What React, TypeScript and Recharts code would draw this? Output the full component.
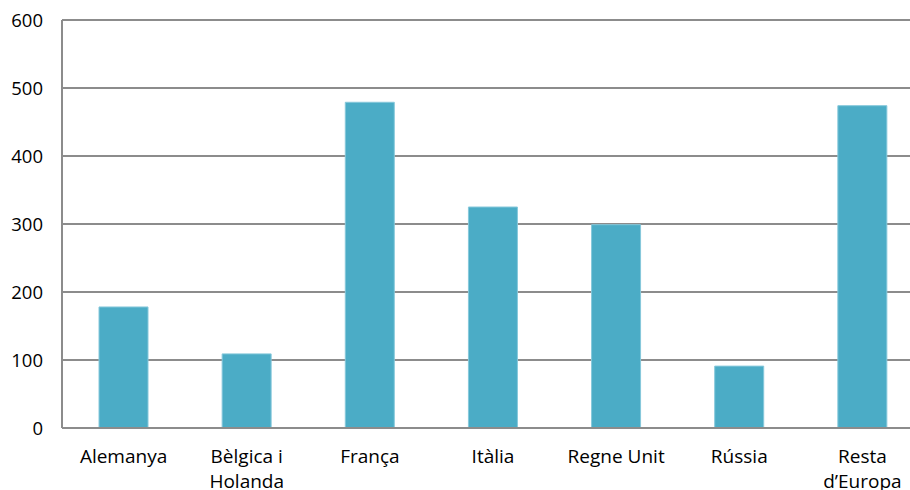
import React from 'react';
import { BarChart, Bar, XAxis, YAxis, CartesianGrid } from 'recharts';

// categories and values
const categories = ['Alemanya', 'Bèlgica i Holanda', 'França', 'Itàlia', 'Regne Unit', 'Rússia', "Resta d'Europa"];
const values = [178, 109, 479, 325, 299, 91, 474];
const tickLines = [['Alemanya'], ['Bèlgica i', 'Holanda'], ['França'], ['Itàlia'], ['Regne Unit'], ['Rússia'], ['Resta', 'd\u2019Europa']];
const yTicks = [0, 100, 200, 300, 400, 500, 600];

const data = categories.map((name, i) => ({ name, value: values[i] }));

const FONT = '"Open Sans", sans-serif';

function CategoryTick(props: any) {
  const { x, payload } = props;
  const lines = tickLines[payload.index] || [payload.value];
  return (
    <g>
      {lines.map((line, i) => (
        <text
          key={i}
          x={x}
          y={456 + i * 25}
          textAnchor="middle"
          dominantBaseline="central"
          fontFamily={FONT}
          fontSize={19}
          fill="#000"
        >
          {line}
        </text>
      ))}
    </g>
  );
}

export default function App() {
  return (
    <div style={{ position: 'absolute', left: 0, top: 0, width: 910, height: 490, background: '#fff', overflow: 'hidden' }}>
      <BarChart width={924} height={490} data={data} margin={{ top: 20, right: 0, bottom: 0, left: 0 }}>
        <CartesianGrid vertical={false} stroke="#8c8c8c" strokeWidth={2} />
        <XAxis
          dataKey="name"
          height={62}
          axisLine={{ stroke: '#8c8c8c', strokeWidth: 2 }}
          tickLine={false}
          tick={<CategoryTick />}
          interval={0}
        />
        <YAxis
          width={62}
          domain={[0, 600]}
          ticks={yTicks}
          axisLine={{ stroke: '#8c8c8c', strokeWidth: 2 }}
          tickLine={false}
          tickSize={0}
          tickMargin={19}
          tick={{ fontFamily: FONT, fontSize: 18.5, fill: '#000' }}
        />
        <Bar dataKey="value" fill="#4bacc6" stroke="#86c8db" strokeWidth={1} barSize={49} isAnimationActive={false} />
      </BarChart>
    </div>
  );
}
